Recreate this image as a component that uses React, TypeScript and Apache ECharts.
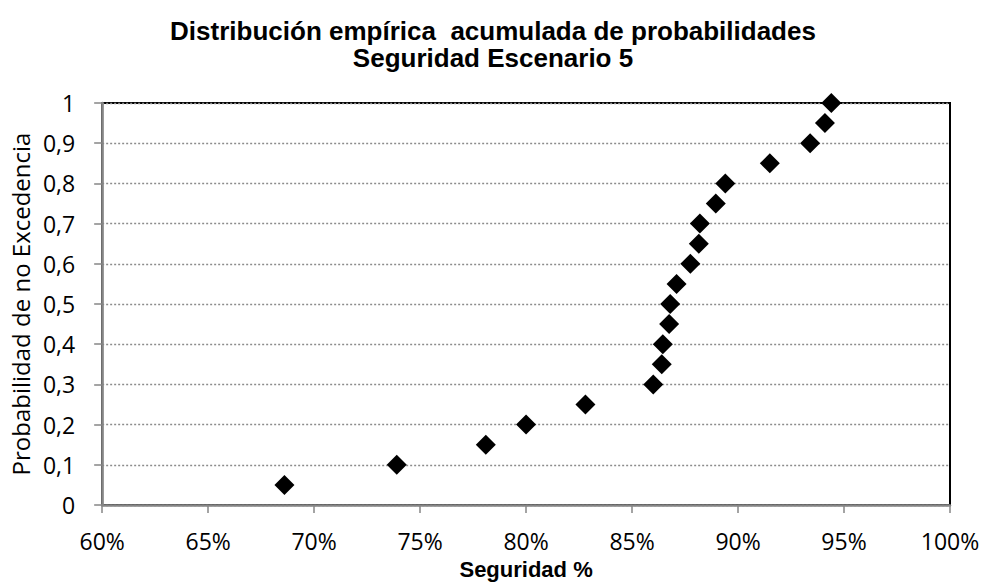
import React, { useEffect, useRef } from "react";
import * as echarts from "echarts";

const seguridad = [68.6, 73.9, 78.1, 80.0, 82.8, 86.0, 86.4, 86.45, 86.75, 86.8, 87.1, 87.75, 88.15, 88.2, 88.95, 89.4, 91.5, 93.4, 94.1, 94.4];
const probabilidad = [0.05, 0.1, 0.15, 0.2, 0.25, 0.3, 0.35, 0.4, 0.45, 0.5, 0.55, 0.6, 0.65, 0.7, 0.75, 0.8, 0.85, 0.9, 0.95, 1.0];
const titleLines = ["Distribución empírica  acumulada de probabilidades", "Seguridad Escenario 5"];
const xName = "Seguridad %";
const yName = "Probabilidad de no Excedencia";

export default function App() {
  const ref = useRef<HTMLDivElement>(null);
  useEffect(() => {
    if (!ref.current) return;
    const chart = echarts.init(ref.current, null, { renderer: "svg" });
    const boldFont = "'Liberation Sans', Arial, sans-serif";
    const font = "'Open Sans', 'Liberation Sans', sans-serif";
    chart.setOption({
      animation: false,
      backgroundColor: "#fff",
      title: {
        text: titleLines.join("\n"),
        left: "center",
        top: 12,
        textStyle: { fontFamily: boldFont, fontSize: 26, fontWeight: "bold", color: "#000", lineHeight: 27 },
      },
      grid: { left: 102, right: 36, top: 103, bottom: 79, show: true, borderColor: "#000", borderWidth: 2 },
      xAxis: {
        type: "value",
        min: 60,
        max: 100,
        interval: 5,
        name: xName,
        nameLocation: "middle",
        nameGap: 53,
        nameTextStyle: { fontFamily: boldFont, fontSize: 22, fontWeight: "bold", color: "#000" },
        axisLine: { show: true, onZero: false, lineStyle: { color: "#868686", width: 2.5 } },
        axisTick: { show: true, length: 8, lineStyle: { color: "#868686", width: 1.5 } },
        axisLabel: { formatter: (v: number) => `${v}%`, fontFamily: font, fontSize: 23, color: "#000", margin: 24 },
        splitLine: { show: false },
      },
      yAxis: {
        type: "value",
        min: 0,
        max: 1,
        interval: 0.1,
        name: yName,
        nameLocation: "middle",
        nameGap: 70,
        nameTextStyle: { fontFamily: font, fontSize: 24, color: "#000" },
        axisLine: { show: true, lineStyle: { color: "#868686", width: 2.5 } },
        axisTick: { show: true, length: 8, lineStyle: { color: "#868686", width: 1.5 } },
        axisLabel: {
          formatter: (v: number) => String(Math.round(v * 10) / 10).replace(".", ","),
          fontFamily: font,
          fontSize: 23,
          color: "#000",
          margin: 27,
        },
        splitLine: { show: true, lineStyle: { color: "#8c8c8c", type: [2, 2], width: 1.3 } },
      },
      series: [
        {
          type: "scatter",
          symbol: "diamond",
          symbolSize: 20,
          itemStyle: { color: "#000", opacity: 1 },
          data: seguridad.map((x, i) => [x, probabilidad[i]]),
        },
      ],
    });
    return () => chart.dispose();
  }, []);
  return <div ref={ref} style={{ position: "absolute", left: 0, top: 0, width: 986, height: 585 }} />;
}
